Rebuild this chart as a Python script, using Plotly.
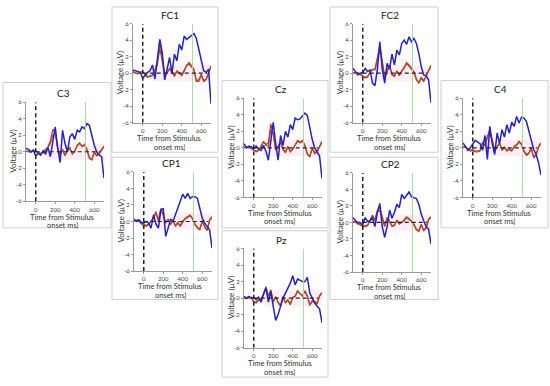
import plotly.graph_objects as go

TIME = [-100, -75, -50, -25, 0, 25, 50, 75, 100, 125, 150, 175, 200, 225, 250, 275, 300,
        325, 350, 375, 400, 425, 450, 475, 500, 525, 550, 575, 600, 625, 650, 675, 700]

PANELS = ["C3", "FC1", "CP1", "Cz", "Pz", "FC2", "CP2", "C4"]

C3_BLUE = [0.4,0.3,0.0,0.2,-0.5,-0.2,-0.4,0.1,-0.3,0.5,-0.6,1.5,3.0,0.5,-1.3,2.6,1.0,0.0,1.8,2.2,1.5,2.6,2.4,3.0,2.8,3.4,3.2,2.0,0.8,0.0,-0.4,-0.6,-3.2]
C3_BROWN = [0.1,0.0,-0.1,0.2,0.0,-0.2,-0.3,-0.1,0.3,0.5,1.0,2.0,2.2,0.5,-0.4,0.3,-0.5,0.2,0.5,-0.3,0.0,0.8,1.1,0.6,0.9,0.3,-0.7,-0.9,0.0,-0.4,-0.2,0.3,0.7]
C3_RED = [0.0,0.1,0.0,0.1,0.1,-0.1,-0.2,0.0,0.2,0.6,1.3,2.7,2.4,0.3,-0.3,0.2,-0.4,0.1,0.4,-0.2,0.1,0.7,1.0,0.7,0.8,0.2,-0.8,-1.0,-0.1,-0.5,-0.3,0.2,0.6]

FC1_BLUE = [0.4,0.3,0.2,0.1,-0.6,-0.2,0.1,0.3,1.0,-0.7,1.5,4.1,2.5,-0.8,0.5,1.9,0.0,2.3,1.5,3.5,2.8,4.5,4.1,4.3,4.6,4.8,4.2,2.8,1.4,0.3,0.1,0.5,-3.7]
FC1_BROWN = [0.2,0.0,-0.1,0.1,0.2,-0.3,-0.5,-0.4,-0.3,0.3,1.0,3.0,1.5,-0.2,0.0,0.6,0.2,-0.4,0.3,0.0,-0.3,0.2,1.0,1.3,0.9,0.5,-0.9,-0.8,-0.1,-0.9,-0.7,0.2,0.9]
FC1_RED = [0.1,0.0,0.0,0.1,0.1,-0.2,-0.4,-0.3,-0.2,0.4,1.4,3.9,2.0,-0.1,0.1,0.5,0.1,-0.3,0.2,0.1,-0.2,0.3,0.9,1.1,0.8,0.4,-1.0,-1.0,-0.2,-1.0,-0.8,0.1,0.8]

CP1_BLUE = [0.3,0.0,0.2,-0.1,-0.2,0.0,-0.2,-0.8,0.8,-0.3,-0.8,1.3,1.6,-1.8,-0.8,0.3,0.0,0.8,1.8,2.4,3.3,2.8,3.4,2.8,3.0,3.0,2.8,1.6,0.4,-0.2,-0.6,-1.0,-3.2]
CP1_BROWN = [0.0,0.2,0.1,-0.3,-0.5,-0.6,-0.4,0.0,0.5,1.2,0.0,1.4,0.8,-0.2,0.3,-0.4,0.2,-0.6,-0.2,-0.6,0.0,0.4,0.6,0.8,0.4,-0.3,-0.7,-0.9,0.1,-0.6,-1.0,0.2,0.6]
CP1_RED = [0.1,0.1,0.0,-0.2,-0.4,-0.5,-0.3,0.1,0.4,1.0,0.2,1.6,0.7,-0.1,0.2,-0.3,0.1,-0.5,-0.1,-0.5,0.1,0.3,0.5,0.7,0.3,-0.4,-0.8,-1.0,0.0,-0.7,-1.1,0.1,0.5]

CZ_BLUE = [0.5,0.0,0.2,0.1,-0.1,0.2,-0.1,-0.3,0.3,-0.4,-1.5,1.2,3.1,0.5,-1.5,1.5,0.3,2.0,1.3,2.8,2.2,3.6,3.4,3.5,3.8,4.2,3.9,2.4,1.0,0.0,-0.5,-1.0,-3.7]
CZ_BROWN = [0.1,0.0,0.1,-0.1,-0.4,-0.5,-0.3,0.2,0.8,0.3,0.2,2.2,1.8,-0.3,0.2,0.8,-0.2,-0.6,0.2,-0.5,-0.2,0.4,0.9,0.7,0.9,0.3,-0.7,-1.0,0.0,-0.6,-0.4,0.2,0.8]
CZ_RED = [0.0,0.1,0.0,0.0,-0.3,-0.4,-0.2,0.1,0.7,0.4,0.6,2.9,1.6,-0.2,0.1,0.7,-0.1,-0.5,0.1,-0.4,-0.1,0.3,0.8,0.6,0.8,0.2,-0.8,-1.1,-0.1,-0.7,-0.5,0.1,0.7]

PZ_BLUE = [0.2,0.0,0.2,0.0,0.1,-0.2,0.1,-0.5,0.5,1.2,-0.5,0.8,-1.0,-2.7,-2.0,-1.0,0.0,0.6,1.2,1.8,2.7,1.6,2.3,2.1,2.0,2.0,2.5,0.6,-0.1,-0.6,-1.0,-1.3,-3.0]
PZ_BROWN = [0.0,-0.1,0.1,0.0,-0.5,-0.6,-0.3,-0.2,0.5,1.4,0.2,1.0,-0.5,0.2,-0.6,-1.0,0.2,-0.6,-0.3,-0.8,0.0,0.3,0.9,0.5,0.2,0.9,0.3,-0.8,-0.3,-0.4,-0.6,0.3,0.7]
PZ_RED = [0.1,0.0,0.0,0.1,-0.4,-0.5,-0.2,-0.1,0.4,1.2,0.3,0.9,-0.4,0.1,-0.5,-0.9,0.1,-0.5,-0.2,-0.7,0.1,0.2,0.8,0.6,0.3,0.8,0.2,-0.9,-0.4,-0.5,-0.7,0.2,0.6]

FC2_BLUE = [0.6,0.2,-0.2,0.0,0.1,0.6,0.2,0.4,-1.2,-1.5,0.5,3.8,0.5,-1.2,1.2,0.5,2.3,1.0,2.8,2.2,3.6,4.0,3.5,4.4,3.8,4.2,3.6,2.4,0.8,-0.2,-0.3,-0.8,-3.6]
FC2_BROWN = [0.1,0.0,0.1,-0.2,-0.4,-0.6,-0.5,0.2,0.5,0.4,1.5,2.8,1.3,-0.6,0.3,1.0,-0.2,-0.4,0.3,-0.3,0.2,0.7,1.3,1.0,0.6,0.2,-0.7,-1.1,-0.5,-0.9,-0.3,0.4,1.0]
FC2_RED = [0.0,0.1,0.0,-0.1,-0.3,-0.5,-0.4,0.1,0.4,0.5,1.9,3.4,1.5,-0.5,0.2,0.9,-0.1,-0.3,0.2,-0.2,0.3,0.6,1.2,0.9,0.5,0.1,-0.8,-1.2,-0.6,-1.0,-0.4,0.3,0.9]

CP2_BLUE = [0.6,0.2,0.0,0.0,-0.3,0.6,0.1,0.2,0.6,-0.5,1.2,2.3,-0.5,-1.8,-0.5,1.5,0.5,1.2,2.2,1.8,3.4,2.9,3.3,3.7,3.1,3.0,2.9,2.2,1.0,0.2,-0.5,-0.8,-2.6]
CP2_BROWN = [0.0,0.1,-0.2,-0.3,-0.5,-0.5,-0.4,0.3,0.9,0.2,1.3,1.4,0.5,-0.5,0.6,0.2,-0.5,-0.4,0.3,-0.2,0.0,0.3,0.7,0.5,0.2,-0.2,-0.8,-1.0,-0.2,-0.9,-0.6,0.4,0.7]
CP2_RED = [0.1,0.0,-0.1,-0.2,-0.4,-0.4,-0.3,0.2,0.8,0.3,1.5,1.8,0.6,-0.4,0.5,0.1,-0.4,-0.3,0.2,-0.1,0.1,0.2,0.6,0.4,0.1,-0.3,-0.9,-1.1,-0.3,-1.0,-0.7,0.3,0.6]

C4_BLUE = [0.6,0.2,-0.3,0.0,0.4,0.9,0.7,0.5,-0.3,1.5,-1.4,2.6,0.5,-0.8,1.8,0.5,2.2,1.3,2.8,1.8,3.1,2.6,3.8,3.0,3.7,3.6,3.2,2.0,0.8,-0.2,-0.8,-1.8,-3.3]
C4_BROWN = [0.1,0.2,-0.2,-0.4,-0.3,-0.5,-0.5,-0.4,0.7,0.2,1.2,1.8,0.8,-0.5,0.2,0.6,-0.3,0.0,-0.4,-0.2,-0.4,0.2,0.4,0.8,0.5,-0.3,-0.8,-0.6,0.0,-1.1,-0.8,0.2,0.6]
C4_RED = [0.0,0.1,-0.1,-0.3,-0.2,-0.4,-0.4,-0.3,0.6,0.3,1.4,2.2,1.0,-0.4,0.1,0.5,-0.2,0.1,-0.3,-0.1,-0.3,0.1,0.3,0.7,0.4,-0.4,-0.9,-0.7,-0.1,-1.2,-0.9,0.1,0.5]

X_TICKS = [0, 200, 400, 600]
Y_TICKS = [-6, -4, -2, 0, 2, 4, 6]
Y_TICK_LABELS = ["-6", "-4", "-2", "0", "2", "4", "6"]
ONSET_MS = 0
MARKER_MS = 510
Y_LABEL = "Voltage (µV)"
X_LABEL_1 = "Time from Stimulus"
X_LABEL_2 = "onset ms)"

DATA = {
    "C3": (C3_BLUE, C3_BROWN, C3_RED),
    "FC1": (FC1_BLUE, FC1_BROWN, FC1_RED),
    "CP1": (CP1_BLUE, CP1_BROWN, CP1_RED),
    "Cz": (CZ_BLUE, CZ_BROWN, CZ_RED),
    "Pz": (PZ_BLUE, PZ_BROWN, PZ_RED),
    "FC2": (FC2_BLUE, FC2_BROWN, FC2_RED),
    "CP2": (CP2_BLUE, CP2_BROWN, CP2_RED),
    "C4": (C4_BLUE, C4_BROWN, C4_RED),
}

# layout (pixels): plot-area left x, plot-area top y, and panel box [x0, y0, x1, y1]
W, H = 550, 386
PW, PH = 78, 101
POS = {
    "C3": (26, 100, (3, 80, 111, 228)),
    "FC1": (133, 20, (112, 3, 218, 151)),
    "CP1": (134, 171, (112, 156, 218, 301)),
    "Cz": (244, 96, (222, 78, 328, 228)),
    "Pz": (244, 249, (222, 231, 328, 380)),
    "FC2": (353, 20, (330, 3, 438, 151)),
    "CP2": (353, 172, (330, 156, 438, 301)),
    "C4": (463, 96, (441, 78, 548, 228)),
}

def px(x):
    return x / W

def py(y):
    return 1 - y / H

FONT = "Lato, Open Sans, sans-serif"
fig = go.Figure()
layout = dict(width=W, height=H, margin=dict(l=0, r=0, t=0, b=0),
              paper_bgcolor="white", plot_bgcolor="white", showlegend=False,
              font=dict(family=FONT))
shapes, annotations = [], []

for i, name in enumerate(PANELS, start=1):
    x0, ytop, box = POS[name]
    xa, ya = f"x{i}", f"y{i}"
    axkey = "" if i == 1 else str(i)
    layout["xaxis" + axkey] = dict(
        domain=[px(x0), px(x0 + PW)], anchor=ya, range=[-100, 700],
        tickvals=X_TICKS, showgrid=False, zeroline=False, showline=True,
        linecolor="#9a9a9a", linewidth=1, ticks="outside", ticklen=2, tickcolor="#9a9a9a",
        tickfont=dict(size=6, color="#444"), fixedrange=True)
    layout["yaxis" + axkey] = dict(
        domain=[py(ytop + PH), py(ytop)], anchor=xa, range=[-6, 6],
        tickvals=Y_TICKS, ticktext=Y_TICK_LABELS, showgrid=False, zeroline=False,
        showline=True, linecolor="#9a9a9a", linewidth=1, ticks="outside", ticklen=2,
        tickcolor="#9a9a9a", tickfont=dict(size=6, color="#444"), fixedrange=True)

    blue, brown, red = DATA[name]
    shapes.append(dict(type="rect", xref=xa, yref=ya, x0=100, x1=700, y0=-1, y1=1,
                       fillcolor="rgba(255,160,210,0.18)", line=dict(width=0), layer="below"))
    shapes.append(dict(type="line", xref=xa, yref=ya, x0=MARKER_MS, x1=MARKER_MS, y0=-6, y1=6,
                       line=dict(color="#a6dca6", width=1)))
    shapes.append(dict(type="line", xref=xa, yref=ya, x0=ONSET_MS, x1=ONSET_MS, y0=-6, y1=6,
                       line=dict(color="#222", width=1.5, dash="4px,3px")))
    fig.add_trace(go.Scatter(x=TIME, y=red, xaxis=xa, yaxis=ya, mode="lines",
                             line=dict(color="#d8262a", width=1.2), hoverinfo="skip"))
    fig.add_trace(go.Scatter(x=TIME, y=brown, xaxis=xa, yaxis=ya, mode="lines",
                             line=dict(color="#a4521e", width=1.2), hoverinfo="skip"))
    fig.add_trace(go.Scatter(x=TIME, y=blue, xaxis=xa, yaxis=ya, mode="lines",
                             line=dict(color="#2222cc", width=1.5), hoverinfo="skip"))
    shapes.append(dict(type="line", xref=xa, yref=ya, x0=0, x1=660, y0=0, y1=0,
                       line=dict(color="#222", width=1.2, dash="4px,3px")))
    bx0, by0, bx1, by1 = box
    shapes.append(dict(type="rect", xref="paper", yref="paper",
                       x0=px(bx0), x1=px(bx1), y0=py(by1), y1=py(by0),
                       line=dict(color="#cfcfcf", width=1), fillcolor="rgba(0,0,0,0)"))
    annotations.append(dict(xref="paper", yref="paper", x=px(x0 + 37), y=py(ytop - 9),
                            text=name, showarrow=False, font=dict(size=10, color="#222"),
                            xanchor="center", yanchor="middle"))
    annotations.append(dict(xref="paper", yref="paper", x=px(x0 - 13), y=py(ytop + PH / 2),
                            text=Y_LABEL, textangle=-90, showarrow=False,
                            font=dict(size=8, color="#333"), xanchor="center", yanchor="middle"))
    annotations.append(dict(xref="paper", yref="paper", x=px(x0 + 36), y=py(ytop + PH + 15.5),
                            text=X_LABEL_1, showarrow=False, font=dict(size=7.5, color="#333"),
                            xanchor="center", yanchor="middle", height=8, valign="middle"))
    annotations.append(dict(xref="paper", yref="paper", x=px(x0 + 36), y=py(ytop + PH + 24.5),
                            text=X_LABEL_2, showarrow=False, font=dict(size=7.5, color="#333"),
                            xanchor="center", yanchor="middle", height=8, valign="middle"))

layout["shapes"] = shapes
layout["annotations"] = annotations
fig.update_layout(**layout)
fig.write_html("out.html", config={"displayModeBar": False},
               post_script="document.body.style.margin='0';document.body.style.overflow='hidden';")
